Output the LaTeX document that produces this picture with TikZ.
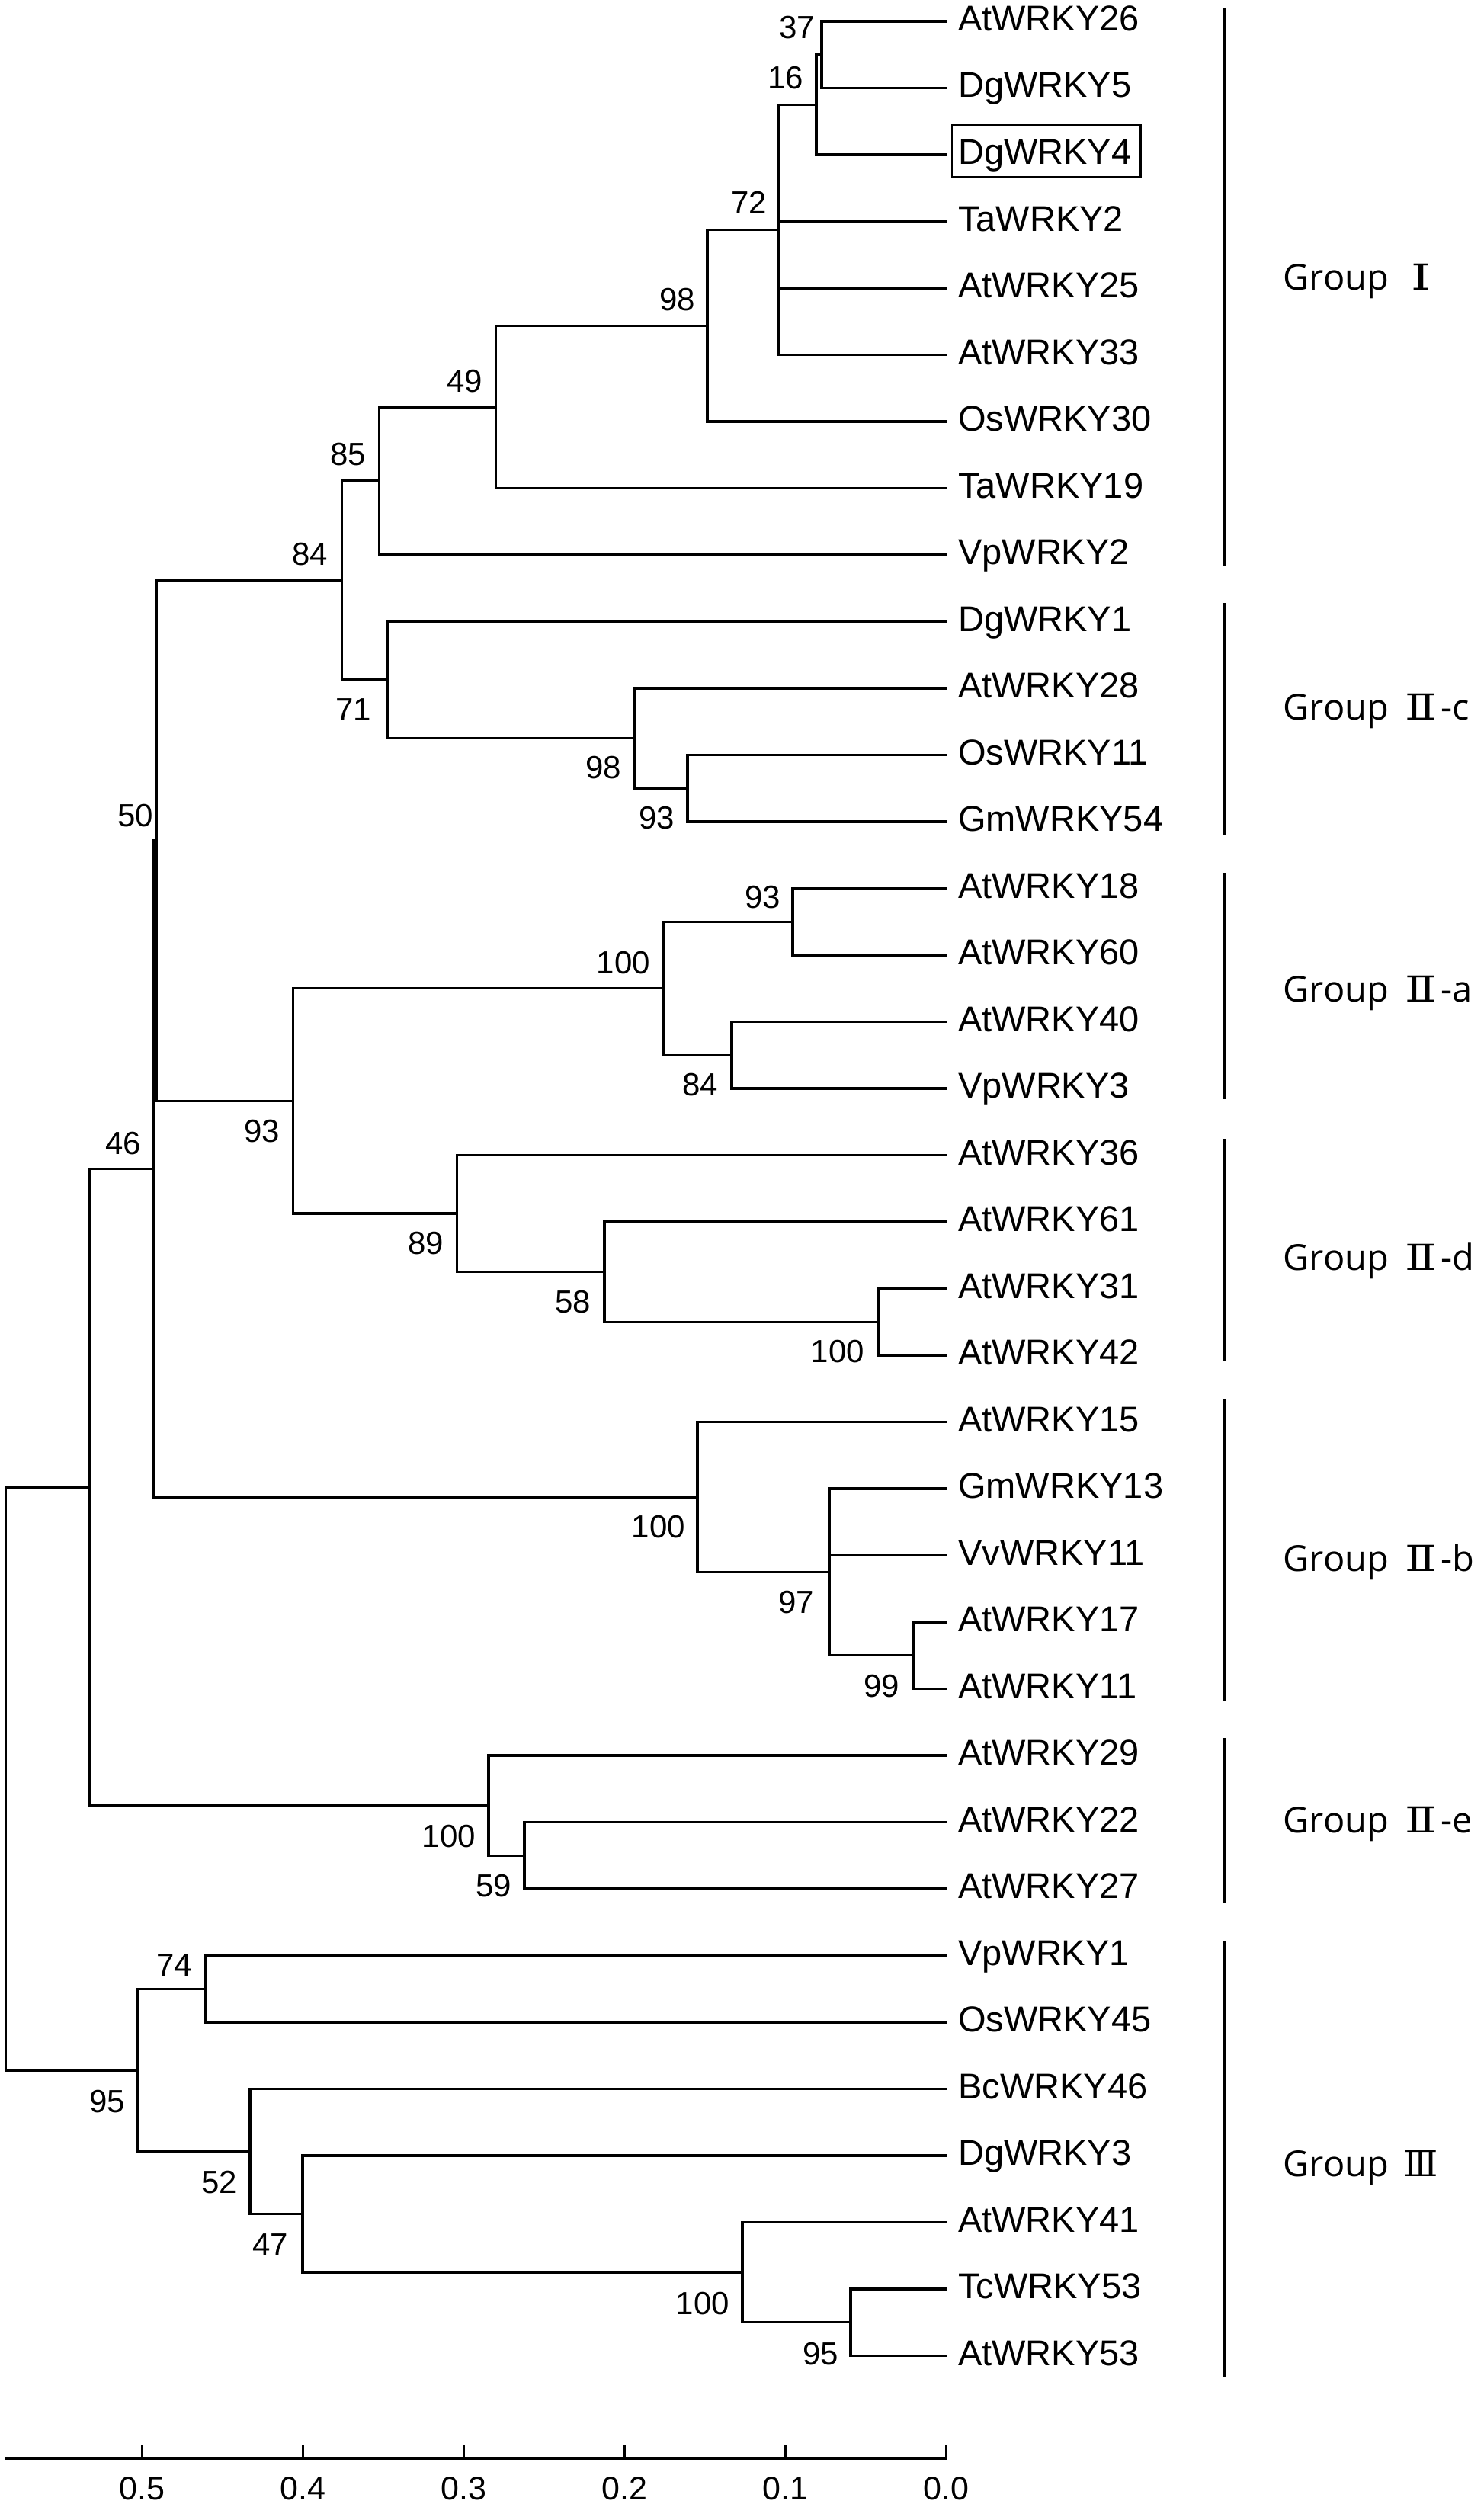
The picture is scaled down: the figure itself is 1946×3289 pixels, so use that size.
\documentclass[tikz,border=0pt]{standalone}
\usepackage{graphicx}
\usepackage{fontspec}
\setmainfont{Liberation Sans}
\newfontfamily\grpfont{Open Sans}
\newfontfamily\numfont{DejaVu Serif}
\newcommand{\rnum}[2]{{\numfont\scalebox{#1}[1]{#2}}}
\begin{document}
\begin{tikzpicture}[x=1pt,y=-1pt,
  br/.style={line width=3.2pt},
  grpbar/.style={line width=3.2pt},
  leaf/.style={anchor=west, inner xsep=15pt, inner ysep=0pt, text height=36pt, text depth=11pt, font=\fontsize{47pt}{56pt}\selectfont},
  bs/.style={anchor=east, inner sep=0pt, font=\fontsize{42pt}{50pt}\selectfont},
  grp/.style={anchor=base west, inner sep=0pt, font=\grpfont\fontsize{47pt}{56pt}\selectfont},
  ticklab/.style={anchor=center, inner sep=0pt, font=\fontsize{43pt}{50pt}\selectfont}]
\useasboundingbox[fill=white] (0,0) rectangle (1946,3289);

% leaves
\foreach \nm/\i in {AtWRKY26/0,DgWRKY5/1,DgWRKY4/2,TaWRKY2/3,AtWRKY25/4,AtWRKY33/5,OsWRKY30/6,TaWRKY19/7,VpWRKY2/8,
  DgWRKY1/9,AtWRKY28/10,OsWRKY11/11,GmWRKY54/12,AtWRKY18/13,AtWRKY60/14,AtWRKY40/15,VpWRKY3/16,
  AtWRKY36/17,AtWRKY61/18,AtWRKY31/19,AtWRKY42/20,AtWRKY15/21,GmWRKY13/22,VvWRKY11/23,AtWRKY17/24,AtWRKY11/25,
  AtWRKY29/26,AtWRKY22/27,AtWRKY27/28,VpWRKY1/29,OsWRKY45/30,BcWRKY46/31,DgWRKY3/32,AtWRKY41/33,TcWRKY53/34,AtWRKY53/35}
  {\node[leaf] (t\i) at (1242,{28+87.5*\i}) {\nm};}

% box round DgWRKY4
\draw[line width=2.4pt] ([shift={(7pt,39pt)}]t2.west) rectangle ([shift={(-3pt,-29pt)}]t2.east);

% internal nodes
\coordinate (n37) at (1078,71.75);
\coordinate (n16) at (1071,137.4);
\coordinate (n72) at (1022,301.4);
\coordinate (n98) at (928,427.2);
\coordinate (n49) at (650.6,533.9);
\coordinate (n85) at (497.5,631);
\coordinate (n93c) at (902,1034.25);
\coordinate (n98c) at (833,968.6);
\coordinate (n71) at (509,892);
\coordinate (n84) at (448.4,761.5);
\coordinate (n93a) at (1040,1209.25);
\coordinate (n84a) at (960,1384.25);
\coordinate (n100a) at (870,1296.75);
\coordinate (n100d) at (1152,1734.25);
\coordinate (n58) at (793,1668.6);
\coordinate (n89) at (599.5,1592);
\coordinate (n93) at (384.6,1444.4);
\coordinate (n50) at (205,1103);
\coordinate (n99) at (1198,2171.75);
\coordinate (n97) at (1088,2062.4);
\coordinate (n100b) at (915,1964);
\coordinate (nX) at (201.5,1533.5);
\coordinate (n59) at (688,2434.25);
\coordinate (n100e) at (641,2368.6);
\coordinate (n118) at (118,1951);
\coordinate (n74) at (270,2609.25);
\coordinate (n95b) at (1116,3046.75);
\coordinate (n100c) at (974,2981.1);
\coordinate (n47) at (397,2904.6);
\coordinate (n52) at (328,2822.5);
\coordinate (n95) at (180.5,2715.9);
\coordinate (root) at (7.7,2333.4);

% branches
\draw[br] (n37) |- (t0.west);
\draw[br] (n37) |- (t1.west);
\draw[br] (n16) |- (n37);
\draw[br] (n16) |- (t2.west);
\draw[br] (n72) |- (n16);
\draw[br] (n72) |- (t3.west);
\draw[br] (n72) |- (t4.west);
\draw[br] (n72) |- (t5.west);
\draw[br] (n98) |- (n72);
\draw[br] (n98) |- (t6.west);
\draw[br] (n49) |- (n98);
\draw[br] (n49) |- (t7.west);
\draw[br] (n85) |- (n49);
\draw[br] (n85) |- (t8.west);
\draw[br] (n93c) |- (t11.west);
\draw[br] (n93c) |- (t12.west);
\draw[br] (n98c) |- (t10.west);
\draw[br] (n98c) |- (n93c);
\draw[br] (n71) |- (t9.west);
\draw[br] (n71) |- (n98c);
\draw[br] (n84) |- (n85);
\draw[br] (n84) |- (n71);
\draw[br] (n93a) |- (t13.west);
\draw[br] (n93a) |- (t14.west);
\draw[br] (n84a) |- (t15.west);
\draw[br] (n84a) |- (t16.west);
\draw[br] (n100a) |- (n93a);
\draw[br] (n100a) |- (n84a);
\draw[br] (n100d) |- (t19.west);
\draw[br] (n100d) |- (t20.west);
\draw[br] (n58) |- (t18.west);
\draw[br] (n58) |- (n100d);
\draw[br] (n89) |- (t17.west);
\draw[br] (n89) |- (n58);
\draw[br] (n93) |- (n100a);
\draw[br] (n93) |- (n89);
\draw[br] (n50) |- (n84);
\draw[br] (n50) |- (n93);
\draw[br] (n99) |- (t24.west);
\draw[br] (n99) |- (t25.west);
\draw[br] (n97) |- (t22.west);
\draw[br] (n97) |- (t23.west);
\draw[br] (n97) |- (n99);
\draw[br] (n100b) |- (t21.west);
\draw[br] (n100b) |- (n97);
\draw[br] (nX) |- (n50);
\draw[br] (nX) |- (n100b);
\draw[br] (n59) |- (t27.west);
\draw[br] (n59) |- (t28.west);
\draw[br] (n100e) |- (t26.west);
\draw[br] (n100e) |- (n59);
\draw[br] (n118) |- (nX);
\draw[br] (n118) |- (n100e);
\draw[br] (n74) |- (t29.west);
\draw[br] (n74) |- (t30.west);
\draw[br] (n95b) |- (t34.west);
\draw[br] (n95b) |- (t35.west);
\draw[br] (n100c) |- (t33.west);
\draw[br] (n100c) |- (n95b);
\draw[br] (n47) |- (t32.west);
\draw[br] (n47) |- (n100c);
\draw[br] (n52) |- (t31.west);
\draw[br] (n52) |- (n47);
\draw[br] (n95) |- (n74);
\draw[br] (n95) |- (n52);
\draw[br] (root) |- (n118);
\draw[br] (root) |- (n95);

% bootstrap values
\node[bs] (b37) at (1069,36) {37};
\node[bs] (b16) at (1054,102) {16};
\node[bs] (b72) at (1006,266) {72};
\node[bs] (b98) at (912,393) {98};
\node[bs] (b49) at (633,500) {49};
\node[bs] (b85) at (480,596) {85};
\node[bs] (b84) at (430,727) {84};
\node[bs] (b71) at (487,931) {71};
\node[bs] (b98c) at (815,1007) {98};
\node[bs] (b93c) at (885,1073) {93};
\node[bs] (b50) at (201.5,1070) {50};
\node[bs] (b46) at (185,1500) {46};
\node[bs] (b93) at (367,1484) {93};
\node[bs] (b100a) at (853,1263) {100};
\node[bs] (b93a) at (1024,1177) {93};
\node[bs] (b84a) at (942,1423) {84};
\node[bs] (b89) at (582,1631) {89};
\node[bs] (b58) at (775,1708) {58};
\node[bs] (b100d) at (1134,1773) {100};
\node[bs] (b100b) at (899,2003) {100};
\node[bs] (b97) at (1068,2102) {97};
\node[bs] (b99) at (1180,2212) {99};
\node[bs] (b100e) at (624,2409) {100};
\node[bs] (b59) at (671,2474) {59};
\node[bs] (b74) at (252,2578) {74};
\node[bs] (b95) at (164,2757) {95};
\node[bs] (b52) at (311,2863) {52};
\node[bs] (b47) at (378,2945) {47};
\node[bs] (b100c) at (957,3022) {100};
\node[bs] (b95b) at (1100,3088) {95};

% group bars
\draw[grpbar] (1607,10) -- (1607,742);
\draw[grpbar] (1607,791) -- (1607,1095);
\draw[grpbar] (1607,1145) -- (1607,1442);
\draw[grpbar] (1607,1494) -- (1607,1786);
\draw[grpbar] (1607,1835) -- (1607,2231);
\draw[grpbar] (1607,2280) -- (1607,2496);
\draw[grpbar] (1607,2547) -- (1607,3119);

% group labels
\node[grp] (gI) at (1683.5,380) {Group\kern29pt\rnum{1.4}{Ⅰ}};
\node[grp] (gIIc) at (1683.5,944) {Group\kern21pt\rnum{1.3}{Ⅱ}\kern6pt-c};
\node[grp] (gIIa) at (1683.5,1314) {Group\kern21pt\rnum{1.3}{Ⅱ}\kern6pt-a};
\node[grp] (gIId) at (1683.5,1666) {Group\kern21pt\rnum{1.3}{Ⅱ}\kern6pt-d};
\node[grp] (gIIb) at (1683.5,2061) {Group\kern21pt\rnum{1.3}{Ⅱ}\kern6pt-b};
\node[grp] (gIIe) at (1683.5,2404) {Group\kern21pt\rnum{1.3}{Ⅱ}\kern6pt-e};
\node[grp] (gIII) at (1683.5,2855) {Group\kern19pt\rnum{1.0}{Ⅲ}};

% scale axis
\draw[br] (6,3225) -- (1242.8,3225);
\foreach \v/\k in {0.5/5,0.4/4,0.3/3,0.2/2,0.1/1,0.0/0} {
  \draw[br] ({1241.3-211*\k},3208) -- ({1241.3-211*\k},3225);
  \node[ticklab] (s\k) at ({1241.3-211*\k},3265) {\v};
}
\end{tikzpicture}
\end{document}
